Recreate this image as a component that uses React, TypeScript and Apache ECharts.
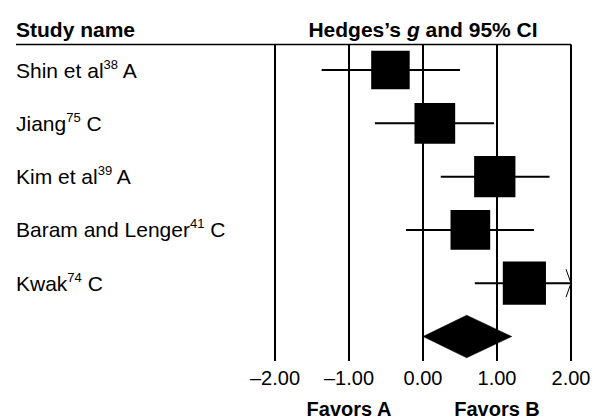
import React, { useEffect, useRef } from "react";
import * as echarts from "echarts";

// ---- data ----
const studyNames = ["Shin et al", "Jiang", "Kim et al", "Baram and Lenger", "Kwak"];
const studyRefs = ["38", "75", "39", "41", "74"];
const studyGroups = ["A", "C", "A", "C", "C"];
const hedgesG = [-0.44, 0.16, 0.97, 0.64, 1.37];
const ciLower = [-1.37, -0.65, 0.24, -0.23, 0.7];
const ciUpper = [0.5, 0.96, 1.71, 1.5, 2.04];
const relWeight = [17.9, 20.0, 20.6, 19.0, 22.5];
const summaryG = [0.59];
const summaryLower = [0.0];
const summaryUpper = [1.2];
const xTicks = [-2, -1, 0, 1, 2];
const favorsAt = [-1, 1];
const favorsText = ["Favors A", "Favors B"];

const X_MIN = xTicks[0];
const X_MAX = xTicks[xTicks.length - 1];
const FONT = "'Liberation Sans', Arial, Helvetica, sans-serif";
const SUMMARY_ROW = studyNames.length;

const boxSide = (w: number) => Math.sqrt(w) * 9.1;

export default function App() {
  const ref = useRef<HTMLDivElement>(null);
  useEffect(() => {
    if (!ref.current) return;
    const chart = echarts.init(ref.current, undefined, { renderer: "svg" });
    const option: any = {
      animation: false,
      backgroundColor: "#fff",
      grid: { left: 275, right: 27, top: 44.5, bottom: 56.3 },
      xAxis: [
        {
          type: "value",
          min: X_MIN,
          max: X_MAX,
          interval: 1,
          axisLine: { show: false },
          axisTick: { show: false },
          splitLine: { show: true, lineStyle: { color: "#000", width: 2 } },
          axisLabel: {
            margin: 7,
            color: "#000",
            fontSize: 20,
            fontFamily: FONT,
            formatter: (v: number) => (v < 0 ? "\u2013" : "") + Math.abs(v).toFixed(2),
          },
        },
        {
          type: "value",
          min: X_MIN,
          max: X_MAX,
          interval: 1,
          position: "bottom",
          offset: 31,
          axisLine: { show: false },
          axisTick: { show: false },
          splitLine: { show: false },
          axisLabel: {
            margin: 7,
            color: "#000",
            fontSize: 20,
            fontWeight: "bold",
            fontFamily: FONT,
            formatter: (v: number) => {
              const k = favorsAt.indexOf(v);
              return k >= 0 ? favorsText[k] : "";
            },
          },
        },
        {
          type: "value",
          min: X_MIN,
          max: X_MAX,
          position: "top",
          axisLine: { show: false },
          axisTick: { show: false },
          splitLine: { show: false },
          axisLabel: { show: false },
          name: "{b|Hedges\u2019s }{i|g}{b| and 95% CI}",
          nameLocation: "middle",
          nameGap: 5,
          nameTextStyle: {
            rich: {
              b: { fontSize: 21, fontWeight: "bold", fontFamily: FONT, color: "#000" },
              i: { fontSize: 21, fontWeight: "bold", fontStyle: "italic", fontFamily: FONT, color: "#000" },
            },
          },
        },
      ],
      yAxis: {
        type: "value",
        inverse: true,
        min: -0.48,
        max: 5.46,
        axisLine: { show: false },
        axisTick: { show: false },
        splitLine: { show: false },
        axisLabel: {
          show: true,
          customValues: studyNames.map((_, i) => i),
          align: "left",
          margin: 259,
          formatter: (v: number) => {
            const i = Math.round(v);
            if (i < 0 || i >= studyNames.length) return "";
            return `{n|${studyNames[i]}}{s|${studyRefs[i]}}{n| ${studyGroups[i]}}`;
          },
          rich: {
            n: { fontSize: 21, fontFamily: FONT, color: "#000", lineHeight: 25 },
            s: { fontSize: 13, fontFamily: FONT, color: "#000", lineHeight: 20, verticalAlign: "top" },
          },
        },
      },
      graphic: [
        {
          type: "text",
          x: 16,
          y: 29.5,
          style: {
            text: "Study name",
            font: `bold 21px ${FONT}`,
            fill: "#000",
            verticalAlign: "middle",
          },
        },
        {
          type: "line",
          shape: { x1: 16, y1: 44.5, x2: 571, y2: 44.5 },
          style: { stroke: "#000", lineWidth: 1.5 },
        },
      ],
      series: [
        {
          type: "custom",
          xAxisIndex: 0,
          clip: false,
          data: studyNames.map((_, i) => [ciLower[i], ciUpper[i], i]),
          encode: { x: [0, 1], y: 2 },
          renderItem: (_p: any, api: any) => {
            const lo = api.value(0);
            const hi = api.value(1);
            const row = api.value(2);
            const a = api.coord([lo, row]);
            const b = api.coord([Math.min(hi, X_MAX), row]);
            const children: any[] = [
              {
                type: "line",
                shape: { x1: a[0], y1: a[1], x2: b[0], y2: b[1] },
                style: { stroke: "#000", lineWidth: 2 },
              },
            ];
            if (hi > X_MAX) {
              children.push({
                type: "polyline",
                shape: {
                  points: [
                    [b[0] - 5, b[1] - 14],
                    [b[0], b[1]],
                    [b[0] - 5, b[1] + 14],
                  ],
                },
                style: { stroke: "#000", fill: "none", lineWidth: 1 },
              });
            }
            return { type: "group", children };
          },
          z: 2,
        },
        {
          type: "scatter",
          xAxisIndex: 0,
          symbol: "rect",
          data: hedgesG.map((g, i) => ({ value: [g, i], symbolSize: boxSide(relWeight[i]) })),
          itemStyle: { color: "#000", opacity: 1 },
          z: 3,
        },
        {
          type: "custom",
          xAxisIndex: 0,
          data: summaryG.map((g, i) => [summaryLower[i], g, summaryUpper[i], SUMMARY_ROW]),
          encode: { x: [0, 1, 2], y: 3 },
          renderItem: (_p: any, api: any) => {
            const lo = api.value(0);
            const g = api.value(1);
            const hi = api.value(2);
            const row = api.value(3);
            const h = 0.4;
            const pts = [
              api.coord([lo, row]),
              api.coord([g, row - h]),
              api.coord([hi, row]),
              api.coord([g, row + h]),
            ];
            return {
              type: "polygon",
              shape: { points: pts },
              style: { fill: "#000", stroke: "#000", lineWidth: 0.5 },
            };
          },
          z: 3,
        },
      ],
    };
    chart.setOption(option);
    return () => chart.dispose();
  }, []);
  return (
    <div
      ref={ref}
      style={{ position: "absolute", left: 0, top: 0, width: 598, height: 419, background: "#fff" }}
    />
  );
}
